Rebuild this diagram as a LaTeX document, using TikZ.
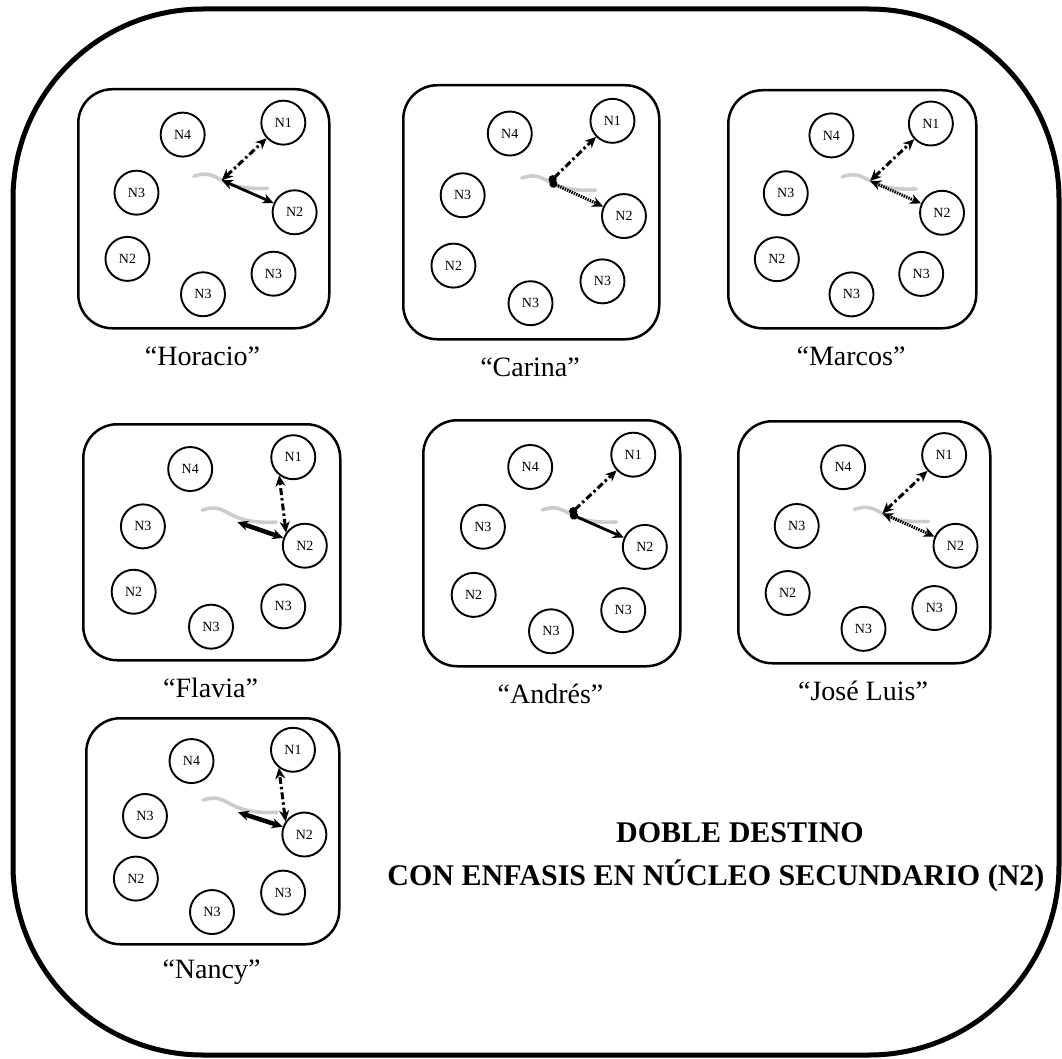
\documentclass[tikz,border=0pt]{standalone}
\usepackage{fontspec}
\setmainfont{Liberation Serif}
\usetikzlibrary{arrows.meta}

\tikzset{
  panelbox/.style={draw, line width=2.5pt, rounded corners=34pt, anchor=north west},
  nucleo/.style={draw, circle, line width=1.9pt, minimum size=44pt, inner sep=0pt,
    font=\fontsize{14}{16}\selectfont},
  nombre/.style={font=\fontsize{28}{32}\selectfont},
  titulo/.style={font=\bfseries\fontsize{30}{34}\selectfont},
  trazo/.style={line width=3.6pt, gray!40, line cap=round},
  rayapunto/.style={line width=3pt, dash pattern=on 7pt off 3pt on 2.5pt off 3pt},
  continua/.style={line width=2.8pt},
  cuadritos/.style={line width=3pt, dash pattern=on 1.5pt off 1pt},
  gruesa/.style={line width=4.5pt},
  >={Stealth[length=11pt,width=10pt]}
}

% one group: name, x, y, width, height, label
\newcommand{\grupo}[6]{
  \node[panelbox, minimum width=#4pt, minimum height=#5pt] (#1) at (#2,#3) {};
  \begin{scope}[shift={(#2,#3)}, x=#4pt, y=-#5pt]
    \node[nucleo] (#1-n1)  at (0.822,0.145) {N1};
    \node[nucleo] (#1-n4)  at (0.421,0.195) {N4};
    \node[nucleo] (#1-n3a) at (0.237,0.438) {N3};
    \node[nucleo] (#1-n2b) at (0.867,0.520) {N2};
    \node[nucleo] (#1-n2a) at (0.201,0.715) {N2};
    \node[nucleo] (#1-n3b) at (0.783,0.777) {N3};
    \node[nucleo] (#1-n3c) at (0.502,0.863) {N3};
    \coordinate (#1-c) at (0.577,0.386);
  \end{scope}
  \node[nombre] (#1-lbl) at (#2+#4/2, #3+#5+29) {#6};
  % gray stroke behind the arrows
  \draw[trazo] ([shift={(-28,-4)}]#1-c) .. controls ([shift={(-14,-9)}]#1-c) and ([shift={(-8,-4)}]#1-c) .. (#1-c)
    .. controls ([shift={(12,7)}]#1-c) and ([shift={(28,9)}]#1-c) .. ([shift={(46,8)}]#1-c);
}

\begin{document}
\begin{tikzpicture}[x=1pt, y=-1pt]
  \useasboundingbox (0,0) rectangle (1062,1059);
  \draw[line width=5pt, rounded corners=190pt] (13,9) rectangle (1059,1055);

  \grupo{ho}{77}{88}{251}{239}{“Horacio”}
  \grupo{ca}{402}{84}{256}{254}{“Carina”}
  \grupo{ma}{727}{89}{248}{238}{“Marcos”}
  \grupo{fl}{82}{423}{257}{236}{“Flavia”}
  \grupo{an}{422}{419}{257}{246}{“Andrés”}
  \grupo{jl}{737}{420}{252}{242}{“José Luis”}
  \grupo{na}{85}{717}{253}{226}{“Nancy”}

  % Horacio
  \draw[rayapunto, <->] (ho-c) -- (ho-n1);
  \draw[continua, <->] (ho-c) -- (ho-n2b);
  % Carina
  \draw[rayapunto, {Circle[length=8pt]}->] (ca-c) -- (ca-n1);
  \draw[cuadritos, {Circle[length=8pt]}->] (ca-c) -- (ca-n2b);
  % Marcos
  \draw[rayapunto, <->] (ma-c) -- (ma-n1);
  \draw[cuadritos, <->] (ma-c) -- (ma-n2b);
  % Flavia
  \draw[rayapunto, <->] (fl-n2b.145) -- (fl-n1.232);
  \draw[gruesa, <->] ([shift={(7,8)}]fl-c) -- (fl-n2b.160);
  % Andres
  \draw[rayapunto, {Circle[length=8pt]}->] (an-c) -- (an-n1);
  \draw[continua, {Circle[length=8pt]}->] (an-c) -- (an-n2b);
  % Jose Luis
  \draw[rayapunto, <->] (jl-c) -- (jl-n1);
  \draw[cuadritos, <->] (jl-c) -- (jl-n2b);
  % Nancy
  \draw[rayapunto, <->] (na-n2b.145) -- (na-n1.232);
  \draw[gruesa, <->] ([shift={(7,8)}]na-c) -- (na-n2b.160);

  \node[titulo] (tit1) at (740,833) {DOBLE DESTINO};
  \node[titulo] (tit2) at (716,876) {CON ENFASIS EN NÚCLEO SECUNDARIO (N2)};
\end{tikzpicture}
\end{document}
